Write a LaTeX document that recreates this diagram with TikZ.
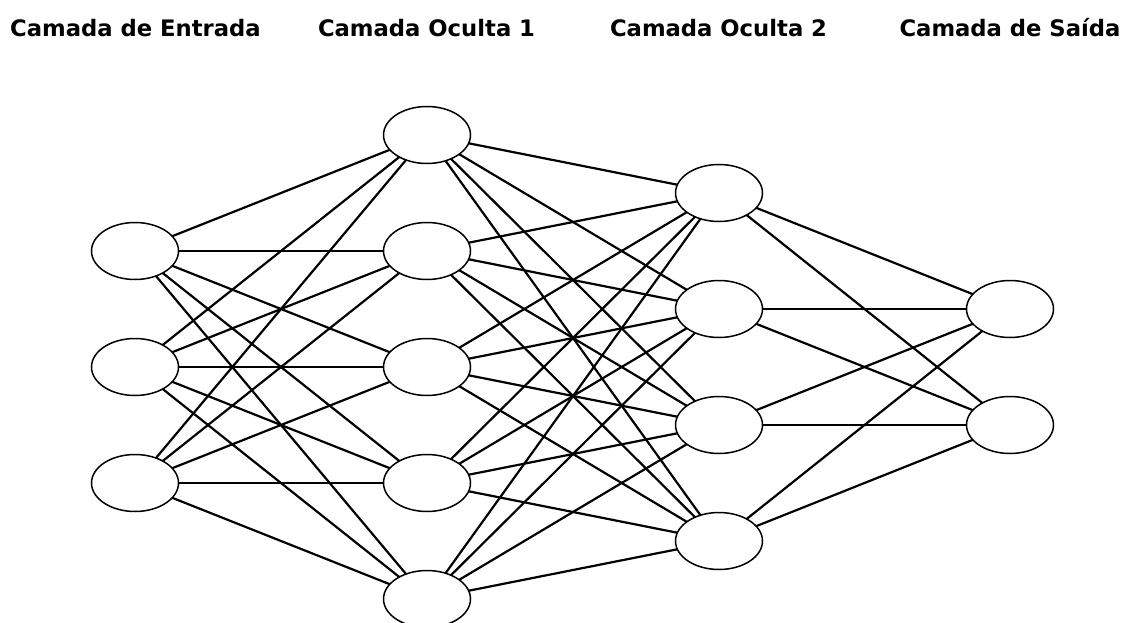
\documentclass[tikz,border=0pt]{standalone}
\usepackage{fontspec}
\newfontfamily\titlefont{DejaVu Sans}
\usetikzlibrary{shapes.geometric}
\begin{document}
\begin{tikzpicture}[x=1pt,y=-1pt,
  neuron/.style={ellipse,draw=black,fill=white,line width=1.5pt,minimum width=87pt,minimum height=57pt,inner sep=0pt},
  conn/.style={draw=black,line width=2.2pt},
  layertitle/.style={font=\titlefont\bfseries\fontsize{22.7}{26}\selectfont,anchor=base,inner sep=0pt}]
\useasboundingbox (0,0) rectangle (1122,623);
\clip (0,0) rectangle (1122,623);
% titles
\node[layertitle] (t1) at (135.5,36.5) {Camada de Entrada};
\node[layertitle] (t2) at (426.5,36.5) {Camada Oculta 1};
\node[layertitle] (t3) at (718.5,36.5) {Camada Oculta 2};
\node[layertitle] (t4) at (1010,36.5) {Camada de Saída};
% coordinates of neurons
\foreach \i/\y in {1/251,2/367,3/483}
  \coordinate (ca\i) at (135,\y);
\foreach \i/\y in {1/135,2/251,3/367,4/483,5/599}
  \coordinate (cb\i) at (427,\y);
\foreach \i/\y in {1/193,2/309,3/425,4/541}
  \coordinate (cc\i) at (719,\y);
\foreach \i/\y in {1/309,2/425}
  \coordinate (cd\i) at (1010,\y);
% connections
\foreach \i in {1,2,3}
  \foreach \j in {1,...,5}
    \draw[conn] (ca\i) -- (cb\j);
\foreach \i in {1,...,5}
  \foreach \j in {1,...,4}
    \draw[conn] (cb\i) -- (cc\j);
\foreach \i in {1,...,4}
  \foreach \j in {1,2}
    \draw[conn] (cc\i) -- (cd\j);
% neurons
\foreach \i in {1,2,3}
  \node[neuron] (a\i) at (ca\i) {};
\foreach \i in {1,...,5}
  \node[neuron] (b\i) at (cb\i) {};
\foreach \i in {1,...,4}
  \node[neuron] (c\i) at (cc\i) {};
\foreach \i in {1,2}
  \node[neuron] (d\i) at (cd\i) {};
\end{tikzpicture}
\end{document}
